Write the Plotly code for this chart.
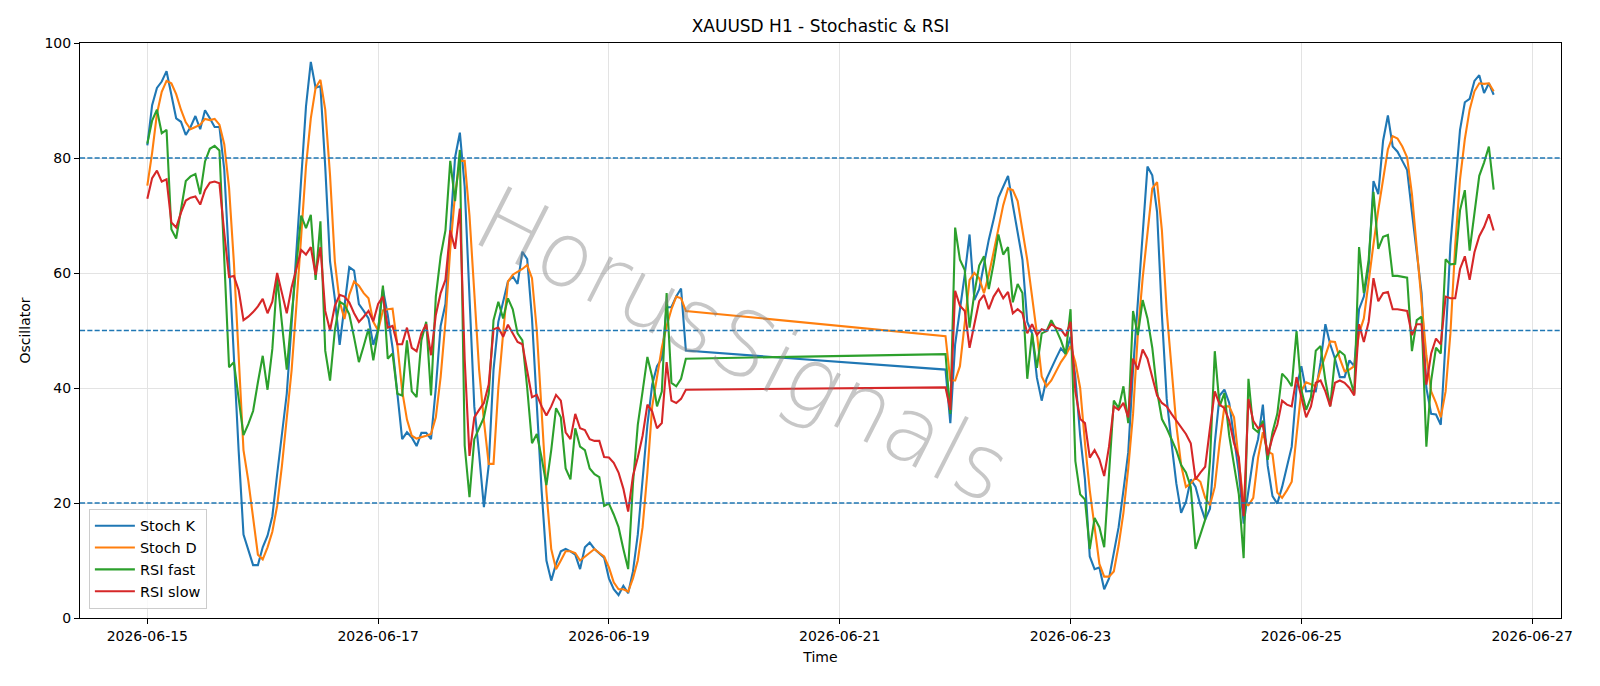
import pandas as pd
import plotly.graph_objects as go

# ---- time axis: two hourly trading blocks (weekend gap) ----
block1_start, block1_end = "2026-06-15 00:00", "2026-06-19 16:00"
block2_start, block2_end = "2026-06-21 22:00", "2026-06-26 16:00"

# ---- series values (block 1 then block 2) ----
stoch_k = [
    82.2, 89.2, 92.2, 93.3, 95.1, 91.1, 86.9, 86.3, 84.0, 85.4,
    87.3, 85.0, 88.3, 86.9, 85.4, 85.4, 78, 62, 45, 29,
    14.5, 12, 9.2, 9.2, 12.3, 14.3, 17.7, 25, 32.5, 39,
    51, 64, 77, 89, 96.7, 92.2, 92.5, 78.5, 62, 55.5,
    47.5, 54.5, 61, 60.4, 54.6, 53.4, 52.1, 47.5, 50.2, 57.2,
    52.7, 47, 39.4, 31.1, 32.3, 31.4, 29.9, 32.2, 32.2, 31.1,
    40, 50.8, 54.6, 66.7, 80.1, 84.4, 75, 55.9, 36.8, 28.5,
    19.3, 26.6, 43.2, 51.5, 55, 58.5, 59.4, 58.1, 63.7, 62.4,
    52.1, 36.8, 22.2, 10, 6.5, 9.4, 11.6, 12, 11.6, 11,
    8.5, 12.3, 13.1, 12, 11.2, 10.5, 6.9, 5, 4, 5.6,
    4.3, 8.1, 14.5, 24.1, 33.6, 40.6, 43.8, 45.1, 54, 54.1,
    55.9, 57.3, 46.5,
    43.2, 33.9, 47.6, 53.4, 59.7, 66.7, 55.3, 57.2, 61.6, 65.8,
    69.3, 73.1, 75, 76.9, 71.8, 66.7, 62.3, 51.5, 49.5, 41.8,
    37.8, 41.6, 43.5, 45.2, 46.9, 45.9, 48.9, 41.9, 31.7, 24.1,
    10.7, 8.5, 8.8, 5, 6.9, 11.3, 15.8, 22.2, 28.8, 43.2,
    54.6, 65.5, 78.5, 77, 70.6, 52.7, 38.1, 30.4, 23.4, 18.3,
    20.2, 24.1, 22.8, 19.6, 17.1, 19, 30.4, 38.7, 39.7, 37.4,
    31.7, 25.3, 16.4, 22.2, 27.9, 31.1, 37.1, 26.5, 21.2, 19.9,
    22.8, 26.3, 29.8, 40, 43.8, 39.4, 39.5, 39.4, 44.5, 51.1,
    47.6, 45.1, 41.9, 41.9, 44.8, 43.8, 53.7, 55.9, 61, 76,
    73.7, 83, 87.4, 82, 81.1, 79.5, 77.9, 70.6, 63.6, 56.5,
    40, 35.5, 35.4, 33.6, 48.3, 64.8, 75, 84.9, 89.7, 90.3,
    93.4, 94.4, 91.3, 93, 91,
]

stoch_d = [
    75.2, 80.9, 87.7, 91.5, 93.4, 93, 91.1, 88.4, 86.2, 85,
    85.4, 85.8, 86.8, 86.6, 86.8, 85.8, 82.4, 74.8, 61.9, 46.7,
    29.2, 23.9, 17.8, 11, 10.2, 12.3, 15, 19.5, 26.5, 34.5,
    43, 54.3, 65.7, 78.6, 86.9, 92.2, 93.6, 88.4, 77, 62,
    55, 52, 56.2, 58.5, 57.8, 56.5, 55.6, 51.5, 50, 53.5,
    53.7, 53.8, 47.5, 39.5, 34.5, 31.7, 31.2, 31.4, 31.7, 32,
    34.9, 41.9, 51.5, 64.2, 73.7, 79.5, 79.5, 70, 56, 43.2,
    34.3, 26.8, 26.8, 40, 49.5, 58.5, 59.7, 60.2, 60.7, 61.4,
    59.1, 50, 36, 22, 12, 8.5, 10, 11.6, 11.6, 11.3,
    10, 10.7, 11.3, 12, 11.3, 10.7, 8.8, 6.2, 5, 5,
    4.6, 6.9, 10, 15.8, 25.3, 36.8, 41.9, 47, 50.8, 53.7,
    55.9, 55.6, 53.4,
    49, 41.3, 41.3, 43.8, 51, 58.8, 60, 59.1, 56.5, 59.7,
    63.6, 68, 71.8, 74.7, 74.4, 72.5, 67.4, 62.3, 55.9, 49.5,
    42, 40.3, 41.3, 42.9, 44.5, 45.7, 47.3, 44.5, 40, 30.4,
    22.2, 15.8, 9.4, 7.2, 7.2, 8.1, 12.6, 18.3, 26, 35.5,
    49.5, 59.1, 66.7, 74.7, 75.8, 67.4, 53.4, 43.2, 33.6, 26.6,
    22.8, 23.4, 24.4, 23.7, 20.9, 19.6, 22.8, 30.4, 36.8, 36.8,
    34.9, 27.3, 19.9, 19.6, 20.9, 27.9, 32.3, 29, 28.5, 21.8,
    20.9, 22.2, 23.7, 31.7, 39.5, 41, 40.6, 40.3, 43.2, 45.7,
    48.1, 48, 45.1, 42.9, 43.2, 43.8, 49.5, 52.1, 59.1, 65,
    71, 76, 81.5, 83.8, 83.4, 82, 80.1, 73.7, 64.8, 54.6,
    45.7, 39.4, 37.4, 34.9, 39.4, 49.5, 64.8, 76.3, 83.3, 88.4,
    91.6, 93, 92.9, 93, 91.6,
]

rsi_fast = [
    82.5, 86.5, 88.4, 84.3, 84.9, 67.6, 66, 71, 76, 76.8,
    77.2, 73.7, 79.4, 81.6, 82.1, 81.3, 62, 43.6, 44.5, 38,
    31.8, 33.7, 36, 41, 45.6, 39.7, 46.8, 59.2, 51, 43.2,
    52.5, 61.5, 70, 67.8, 70.1, 58.8, 69, 46.5, 41.3, 50,
    55, 54.5, 52.8, 48.8, 44.5, 47.3, 50.3, 44.8, 50, 57.8,
    45.1, 46, 39, 38.7, 48.3, 39.4, 38.4, 48.3, 51.5, 38.7,
    55.9, 62.9, 67.4, 79.5, 72.5, 81.4, 30, 21, 31.1, 33,
    34.9, 39, 51.8, 55, 52.1, 55.6, 53.7, 49.5, 48.3, 40,
    30.4, 32, 27.9, 23.1, 29.2, 36.5, 34.9, 26, 24.1, 33,
    29.8, 29.2, 26, 25, 24.5, 19.5, 19.9, 18, 15.8, 12,
    8.5, 23.4, 33.6, 39.4, 45.4, 41.9, 36.8, 39.4, 56.5, 40.9,
    40.3, 41.6, 45.1,
    45.9, 35.5, 67.9, 62.3, 60.5, 50.5, 56.5, 61.3, 62.9, 57.2,
    61.6, 66.7, 63.2, 64.5, 54.9, 58.1, 56.5, 41.6, 49.5, 43.5,
    49.5, 49.9, 51.8, 50.2, 48.3, 45.9, 53.7, 27.3, 21.5, 20.6,
    12, 17.4, 15.8, 12.3, 25, 37.8, 36.5, 40.3, 33.9, 53.4,
    49.2, 55.3, 52.1, 47, 39.4, 34.6, 33, 31.1, 29.2, 26.6,
    25.3, 22.8, 12, 14.5, 17.1, 27.3, 46.4, 36.8, 39.1, 31.7,
    26.6, 21.5, 10.4, 41.6, 33, 32.3, 34.3, 27.5, 32.3, 35.5,
    42.5, 41.6, 40.3, 49.9, 39.7, 36.2, 38.4, 46.5, 47.3, 41.3,
    36.8, 45.2, 46.4, 45.7, 41.9, 39, 64.5, 56.5, 62.3, 74.1,
    64.2, 66.3, 66.6, 59.5, 59.5, 59.3, 59.2, 46.4, 51.8, 52.4,
    29.8, 41.3, 47, 46, 62.4, 61.5, 61.6, 70.9, 74.4, 63.9,
    70.6, 76.9, 79.2, 82, 74.5,
]

rsi_slow = [
    72.9, 76.5, 77.8, 75.9, 76.3, 68.8, 67.9, 70.5, 72.6, 73.1,
    73.3, 71.9, 74.4, 75.7, 75.9, 75.6, 67, 59.3, 59.5, 57,
    51.8, 52.4, 53.2, 54.2, 55.5, 53, 55, 60, 56.5, 53,
    57.5, 61, 64, 63.2, 64.5, 59.7, 64.5, 53.4, 50, 54.3,
    56.2, 55.9, 54.9, 53, 51.5, 52.4, 53.4, 51.6, 54.6, 55.9,
    50.5, 50.8, 47.6, 47.6, 50.5, 47, 46.4, 49.5, 51.1, 45.7,
    52.7, 56.5, 58.8, 67.4, 64.2, 71.2, 45, 28.2, 34.9, 36.2,
    37.4, 40.6, 50.2, 50.5, 48.9, 51, 49.5, 48, 47.6, 43,
    38.4, 38.8, 36.8, 35.2, 36.8, 38.8, 37.8, 32.3, 31.1, 35.5,
    33, 32.7, 31.1, 30.8, 30.8, 28, 27.9, 27, 25.3, 22.5,
    18.5, 24.7, 27.9, 31.7, 37.1, 35.9, 33, 33.9, 44.5, 37.8,
    37.4, 38.1, 39.7,
    40.1, 36.2, 56.9, 54.3, 53.4, 47, 51.1, 55.1, 56.2, 53.7,
    55.9, 57.2, 55.6, 56.7, 53, 53.7, 53, 49.5, 51.1, 49.2,
    50.2, 49.9, 51.1, 50.5, 50.2, 49, 51.5, 39.4, 34.6, 33.9,
    27.9, 29.2, 27.6, 24.7, 29.8, 36.8, 36.2, 37.4, 34.9, 45.1,
    43.2, 46.7, 45.1, 42, 38.7, 37.4, 36.8, 35.5, 34.3, 33,
    32, 30.4, 24.1, 25.3, 26.3, 33, 39.4, 37.1, 36.5, 34.3,
    30.4, 27.9, 17.7, 38.1, 34.3, 33, 33.6, 28.3, 31.4, 33.6,
    37.8, 37.1, 36.8, 41.9, 38.1, 34.9, 36.8, 40.9, 41.3, 39.4,
    36.8, 40.9, 41.3, 40.9, 40, 38.7, 51.1, 48, 51.5, 59.1,
    55.1, 56.5, 56.7, 53.7, 53.7, 53.5, 53.4, 49.2, 51.1, 51.1,
    40.6, 46, 48.6, 47.6, 55.9, 55.6, 55.6, 60.7, 62.9, 58.8,
    63.6, 66.4, 68, 70.2, 67.4,
]

levels = [20, 50, 80]
x_tick_dates = ["2026-06-15", "2026-06-17", "2026-06-19", "2026-06-21",
                "2026-06-23", "2026-06-25", "2026-06-27"]
y_ticks = [0, 20, 40, 60, 80, 100]
series_names = ["Stoch K", "Stoch D", "RSI fast", "RSI slow"]
series_colors = ["#1f77b4", "#ff7f0e", "#2ca02c", "#d62728"]

times = list(pd.date_range(block1_start, block1_end, freq="h")) + \
        list(pd.date_range(block2_start, block2_end, freq="h"))

fig = go.Figure()
for name, vals, col in zip(series_names, [stoch_k, stoch_d, rsi_fast, rsi_slow], series_colors):
    fig.add_trace(go.Scatter(x=times, y=vals, mode="lines", name=name,
                             line=dict(color=col, width=2.1)))

for lv in levels:
    fig.add_hline(y=lv, line=dict(color="#1f77b4", width=1.4, dash="5.1px,2.2px"), layer="above")

font_family = "DejaVu Sans, Liberation Sans, sans-serif"

# watermark
fig.add_annotation(text="HorusSignals", xref="paper", yref="paper", x=0.448, y=0.475,
                   showarrow=False, textangle=27,
                   font=dict(family="DejaVu Sans", size=90, weight=200,
                             color="rgba(130,130,130,0.45)"))

fig.update_layout(
    width=1600, height=686,
    margin=dict(l=80, r=39, t=43, b=68),
    paper_bgcolor="white", plot_bgcolor="white",
    font=dict(family=font_family, size=14, color="black"),
    title=dict(text="XAUUSD H1 - Stochastic & RSI", x=0.5, xref="paper", xanchor="center",
               y=1 - 26.5 / 686, yref="container", yanchor="middle",
               font=dict(size=17, color="black")),
    showlegend=True,
    legend=dict(x=0.006, y=0.016, xanchor="left", yanchor="bottom",
                bgcolor="rgba(255,255,255,0.8)", bordercolor="#cccccc", borderwidth=1,
                font=dict(size=14.5), tracegroupgap=0, itemwidth=40),
)

fig.update_xaxes(
    type="date",
    range=["2026-06-14 10:00", "2026-06-27 06:00"],
    tickvals=x_tick_dates, ticktext=x_tick_dates,
    ticks="outside", ticklen=5, tickwidth=1.1, tickcolor="black",
    showgrid=True, gridcolor="#e3e3e3", gridwidth=1,
    showline=True, linecolor="black", linewidth=1.1, mirror=True,
    zeroline=False,
    title=dict(text="Time", standoff=9, font=dict(size=14)),
    tickfont=dict(size=14),
)
fig.update_yaxes(
    range=[0, 100], tickvals=y_ticks,
    ticks="outside", ticklen=5, tickwidth=1.1, tickcolor="black",
    showgrid=True, gridcolor="#e3e3e3", gridwidth=1,
    showline=True, linecolor="black", linewidth=1.1, mirror=True,
    zeroline=False,
    title=dict(text="Oscillator", standoff=10, font=dict(size=14)),
    tickfont=dict(size=14),
)

fig.write_html("out.html")
